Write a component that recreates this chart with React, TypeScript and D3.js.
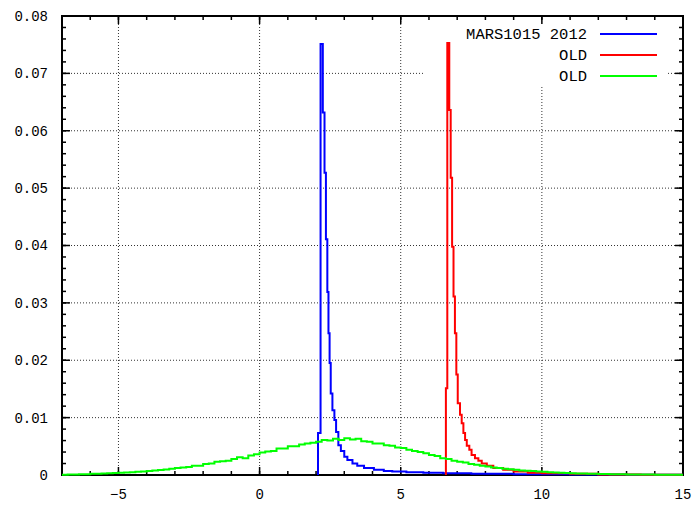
import React from 'react';
import * as d3 from 'd3';

// histogram bins: edges (n+1) and heights (n)
const blueEdges = [2.07, 2.16, 2.24, 2.30, 2.35, 2.40, 2.44, 2.48, 2.52, 2.58, 2.65, 2.71, 2.79, 2.88, 3.0, 3.11, 3.29, 3.46, 3.70, 4.05, 4.4, 4.7, 5.2, 5.8, 6.5, 7.5, 9, 11, 13, 15];
const blueValues = [0.0073, 0.0751, 0.0632, 0.0527, 0.0411, 0.0319, 0.0247, 0.0195, 0.0142, 0.0113, 0.0096, 0.0075, 0.0052, 0.0042, 0.0032, 0.0026, 0.0020, 0.0016, 0.0012, 0.0009, 0.0007, 0.0006, 0.0005, 0.0004, 0.0003, 0.0002, 0.00015, 0.0001, 0.00005];

const redEdges = [6.60, 6.65, 6.72, 6.77, 6.82, 6.87, 6.92, 6.97, 7.02, 7.10, 7.16, 7.22, 7.28, 7.34, 7.43, 7.51, 7.63, 7.75, 7.87, 8.05, 8.28, 8.63, 9.0, 9.5, 10.0, 11.0, 12.0, 13.5, 15];
const redValues = [0.0151, 0.0753, 0.0636, 0.0518, 0.0398, 0.0311, 0.0247, 0.0175, 0.0125, 0.0105, 0.0090, 0.0073, 0.0061, 0.0051, 0.0044, 0.0035, 0.0029, 0.0025, 0.0020, 0.0016, 0.0012, 0.0009, 0.0006, 0.0004, 0.0003, 0.0002, 0.0001, 0.00005];

// green uses fixed 0.2 wide bins starting at -7
const greenStart = -7;
const greenBin = 0.2;
const greenValues = [
  0.00005, 0.00008, 0.0001, 0.00012, 0.00015, 0.0002, 0.00022, 0.00028, 0.0003, 0.00036,
  0.0004, 0.00045, 0.0005, 0.00058, 0.00062, 0.0007, 0.0008, 0.00085, 0.00098, 0.0011,
  0.0012, 0.0013, 0.0014, 0.0016, 0.0016, 0.0019, 0.0020, 0.0023, 0.0024, 0.0025,
  0.0028, 0.0031, 0.0029, 0.0034, 0.0036, 0.0039, 0.0041, 0.0042, 0.0046, 0.0046,
  0.0050, 0.0050, 0.0053, 0.0055, 0.0056, 0.0058, 0.0061, 0.0060, 0.0063, 0.0061,
  0.0064, 0.0062, 0.0063, 0.0059, 0.0058, 0.0055, 0.0055, 0.0052, 0.0051, 0.0048,
  0.0047, 0.0044, 0.0042, 0.0040, 0.0038, 0.0035, 0.0033, 0.0029, 0.0028, 0.0025,
  0.0023, 0.0022, 0.0019, 0.0018, 0.0016, 0.0015, 0.0013, 0.0012, 0.0011, 0.0010,
  0.0009, 0.0008, 0.00075, 0.0007, 0.0006, 0.00055, 0.0005, 0.00045, 0.0004, 0.00035,
  0.0003, 0.00028, 0.00025, 0.00022, 0.0002, 0.00018, 0.00016, 0.00015, 0.00013, 0.00012,
  0.0001, 0.0001, 0.00009, 0.00008, 0.00007, 0.00006, 0.00005, 0.00005, 0.00004, 0.00004
];

const xTicks = [-5, 0, 5, 10, 15];
const xTickLabels = ['\u22125', '0', '5', '10', '15'];
const yTicks = [0, 0.01, 0.02, 0.03, 0.04, 0.05, 0.06, 0.07, 0.08];
const yTickLabels = ['0', '0.01', '0.02', '0.03', '0.04', '0.05', '0.06', '0.07', '0.08'];

const legendNames = ['MARS1015 2012', 'OLD', 'OLD'];
const colors = ['#0000ff', '#ff0000', '#00ff00'];

const width = 696;
const height = 506;
const margin = { top: 16, right: 13, bottom: 31, left: 62 };
const font = '"Liberation Mono", "Courier New", monospace';

type Pt = [number, number];

function stepPoints(edges: number[], values: number[]): Pt[] {
  const pts: Pt[] = [[edges[0], 0]];
  values.forEach((v, i) => pts.push([edges[i], v]));
  pts.push([edges[edges.length - 1], 0]);
  return pts;
}

export default function App() {
  const x = d3.scaleLinear().domain([-7, 15]).range([margin.left, width - margin.right]);
  const y = d3.scaleLinear().domain([0, 0.08]).range([height - margin.bottom, margin.top]);
  const x0 = x.range()[0], x1 = x.range()[1];
  const y0 = y.range()[0], y1 = y.range()[1];

  const line = d3.line<Pt>()
    .x(d => x(d[0]))
    .y(d => y(d[1]))
    .curve(d3.curveStepAfter);

  const greenEdges = greenValues.map((_, i) => greenStart + i * greenBin).concat([greenStart + greenValues.length * greenBin]);
  const series = [
    stepPoints(blueEdges, blueValues),
    stepPoints(redEdges, redValues),
    stepPoints(greenEdges, greenValues)
  ];

  const xMinor = d3.range(-7, 15.01, 1);
  const yMinor = d3.range(0, 0.0801, 0.002);

  // key box hides the grid behind it
  const key = { x: 424, y: 21, w: 244, h: 64 };

  return (
    <svg width={width} height={height} style={{ position: 'absolute', left: 0, top: 0, background: '#fff' }}>
      <defs>
        <clipPath id="plot">
          <rect x={x0} y={0} width={x1 - x0} height={height} />
        </clipPath>
      </defs>
      <rect x={0} y={0} width={width} height={height} fill="#fff" />

      {/* grid */}
      <g stroke="#333" strokeWidth={1} strokeDasharray="1,2">
        {xTicks.filter(t => t > -7 && t < 15).map(t =>
          <line key={`gx-${t}`} x1={x(t)} x2={x(t)} y1={y0} y2={y1} />
        )}
        {yTicks.filter(t => t > 0 && t < 0.08).map(t =>
          <line key={`gy-${t}`} x1={x0} x2={x1} y1={y(t)} y2={y(t)} />
        )}
      </g>
      <rect x={key.x} y={key.y} width={key.w} height={key.h} fill="#fff" />

      {/* ticks and border */}
      <g stroke="#000" strokeWidth={1.5}>
        {xMinor.map(t => (
          <g key={`xm-${t}`}>
            <line x1={x(t)} x2={x(t)} y1={y0} y2={y0 - 4} />
            <line x1={x(t)} x2={x(t)} y1={y1} y2={y1 + 4} />
          </g>
        ))}
        {xTicks.map(t => (
          <g key={`xt-${t}`}>
            <line x1={x(t)} x2={x(t)} y1={y0} y2={y0 - 8} />
            <line x1={x(t)} x2={x(t)} y1={y1} y2={y1 + 8} />
          </g>
        ))}
        {yMinor.map((t, i) => (
          <g key={`ym-${i}`}>
            <line x1={x0} x2={x0 + 4} y1={y(t)} y2={y(t)} />
            <line x1={x1} x2={x1 - 4} y1={y(t)} y2={y(t)} />
          </g>
        ))}
        {yTicks.map(t => (
          <g key={`yt-${t}`}>
            <line x1={x0} x2={x0 + 8} y1={y(t)} y2={y(t)} />
            <line x1={x1} x2={x1 - 8} y1={y(t)} y2={y(t)} />
          </g>
        ))}
      </g>
      <rect x={x0} y={y1} width={x1 - x0} height={y0 - y1} fill="none" stroke="#000" strokeWidth={2} />

      {/* histograms */}
      <g clipPath="url(#plot)" fill="none" strokeWidth={2}>
        {series.map((pts, i) =>
          <path key={`s-${i}`} d={line(pts) || ''} stroke={colors[i]} />
        )}
      </g>

      {/* tick labels */}
      <g fontFamily={font} fontSize={14} fill="#000">
        {yTicks.map((t, i) =>
          <text key={`yl-${t}`} x={x0 - 14} y={y(t)} dy="0.35em" textAnchor="end">{yTickLabels[i]}</text>
        )}
        {xTicks.map((t, i) =>
          <text key={`xl-${t}`} x={x(t)} y={y0 + 19} dy="0.35em" textAnchor="middle">{xTickLabels[i]}</text>
        )}
      </g>

      {/* legend */}
      <g fontFamily={font} fontSize={15.5} fill="#000">
        {legendNames.map((name, i) => (
          <g key={`lg-${i}`}>
            <text x={587} y={34 + i * 21} dy="0.35em" textAnchor="end">{name}</text>
            <line x1={600} x2={657} y1={34 + i * 21} y2={34 + i * 21} stroke={colors[i]} strokeWidth={2} />
          </g>
        ))}
      </g>
    </svg>
  );
}
